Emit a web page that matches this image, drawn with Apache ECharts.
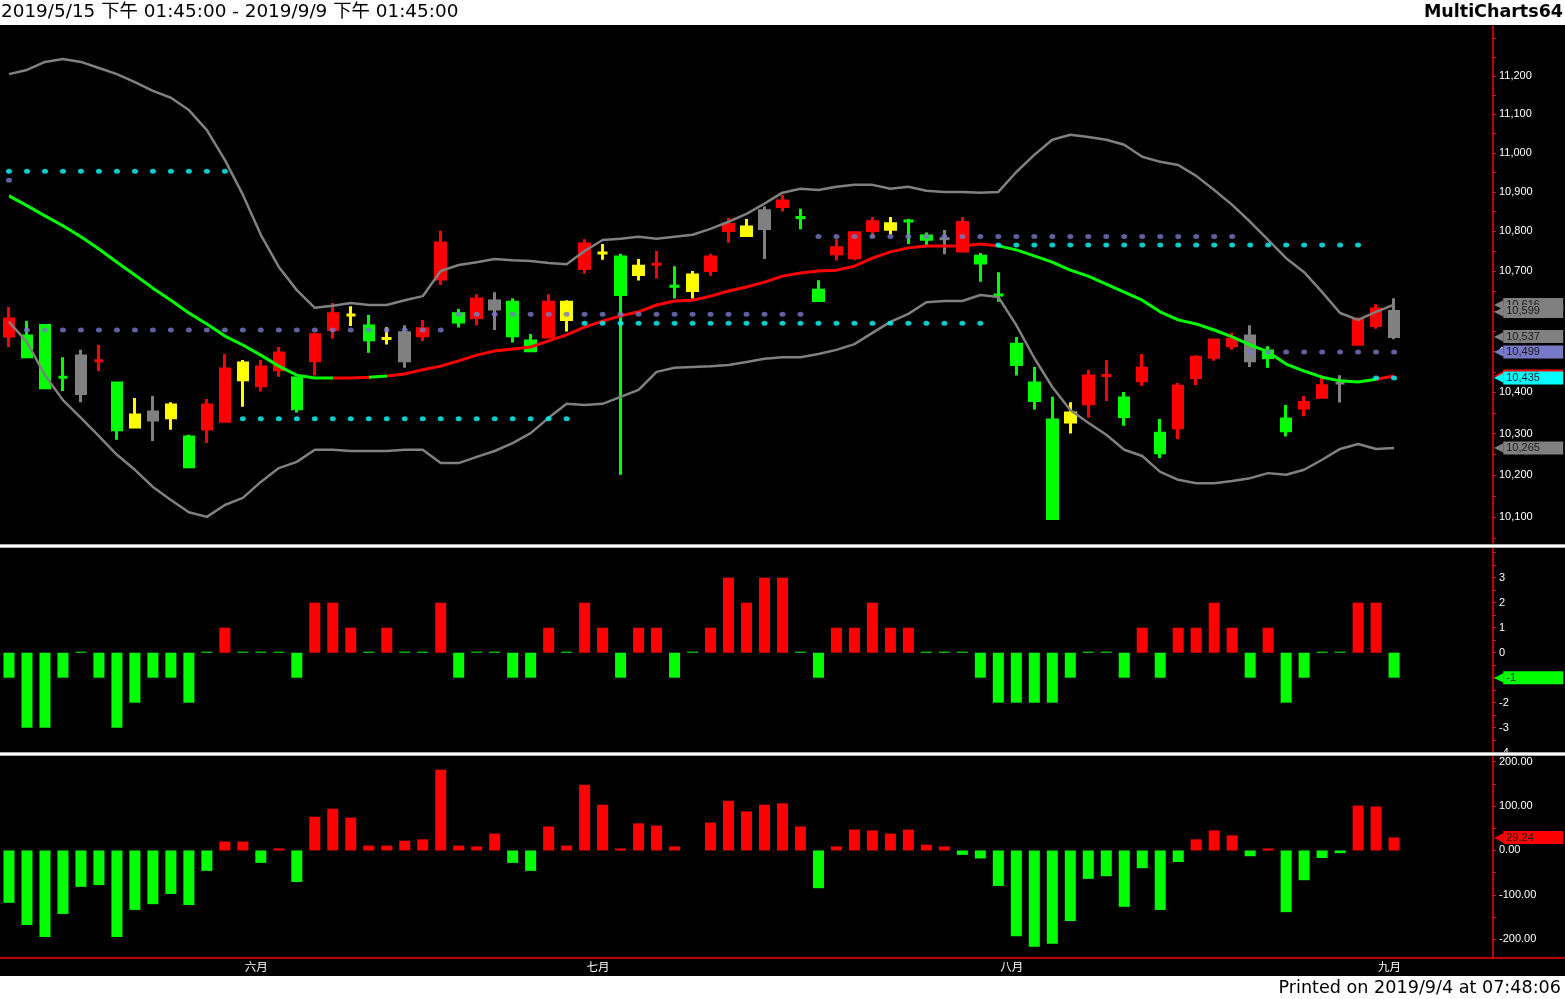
<!DOCTYPE html>
<html><head><meta charset="utf-8">
<script src="https://cdn.jsdelivr.net/npm/echarts@6.0.0/dist/echarts.min.js"></script>
<style>html,body{margin:0;padding:0;background:#000;overflow:hidden}#chart{width:1565px;height:999px}</style>
</head><body><div id="chart"></div>
<script>
// ---------- DATA ----------
const dates = ['5/15','5/16','5/17','5/20','5/21','5/22','5/23','5/24','5/27','5/28','5/29','5/30','5/31',
'6/3','6/4','6/5','6/6','6/10','6/11','6/12','6/13','6/14','6/17','6/18','6/19','6/20','6/21','6/24','6/25','6/26','6/27','6/28',
'7/1','7/2','7/3','7/4','7/5','7/8','7/9','7/10','7/11','7/12','7/15','7/16','7/17','7/18','7/19','7/22','7/23','7/24','7/25','7/26','7/29','7/30','7/31',
'8/1','8/2','8/5','8/6','8/7','8/8','8/12','8/13','8/14','8/15','8/16','8/19','8/20','8/21','8/22','8/23','8/26','8/27','8/28','8/29','8/30',
'9/2','9/3'];
const monthNames = ['一月','二月','三月','四月','五月','六月','七月','八月','九月','十月','十一月','十二月'];

const open = [10538,10538,10564,10437,10489,10477,10423,10316,10352,10338,
10292,10311,10330,10431,10416,10455,10435,10477,10554,10590,
10563,10532,10546,10539,10680,10593,10584,10625,10622,10526,
10536,10579,10706,10745,10735,10691,10717,10662,10651,10701,
10802,10789,10852,10863,10835,10652,10743,10733,10802,10805,
10826,10788,10781,10750,10737,10640,10518,10423,10333,10328,
10372,10441,10386,10428,10301,10314,10436,10486,10514,10538,
10501,10335,10362,10388,10423,10518,10564,10599];
const close = [10580,10487,10411,10437,10397,10477,10309,10345,10333,10369,
10220,10369,10457,10472,10462,10496,10360,10541,10593,10590,
10529,10532,10477,10556,10770,10573,10630,10605,10539,10502,
10622,10622,10768,10745,10641,10712,10717,10662,10690,10735,
10817,10811,10807,10877,10835,10626,10758,10796,10824,10819,
10826,10780,10781,10822,10720,10640,10468,10380,10097,10350,
10440,10441,10341,10459,10254,10415,10486,10528,10530,10477,
10485,10307,10375,10416,10423,10578,10605,10537];
const low = [10511,10484,10408,10403,10376,10452,10285,10314,10282,10309,
10217,10277,10330,10365,10402,10438,10351,10441,10532,10563,
10497,10517,10460,10526,10665,10559,10564,10553,10522,10499,
10533,10549,10693,10728,10201,10676,10681,10631,10631,10688,
10771,10789,10730,10850,10805,10623,10726,10727,10786,10792,
10768,10765,10742,10750,10673,10623,10441,10358,10095,10300,
10338,10379,10319,10416,10241,10287,10418,10477,10504,10462,
10460,10293,10342,10388,10375,10516,10556,10530];
const high = [10610,10575,10568,10486,10504,10516,10425,10386,10391,10376,
10297,10384,10494,10479,10479,10511,10435,10546,10620,10612,
10590,10560,10565,10578,10801,10605,10642,10647,10632,10543,
10642,10627,10780,10768,10743,10730,10750,10712,10700,10743,
10834,10831,10863,10892,10857,10677,10780,10799,10836,10836,
10831,10797,10803,10836,10745,10697,10536,10462,10389,10376,
10455,10479,10401,10494,10335,10423,10491,10531,10546,10565,
10513,10369,10391,10442,10442,10584,10617,10632];
// r = red, g = green, y = yellow, k = gray
const candleColor = ['r','g','g','g','k','r','g','y','k','y',
'g','r','r','y','r','r','g','r','r','y',
'g','y','k','r','r','g','r','k','g','g',
'r','y','r','y','g','y','r','g','y','r',
'r','y','k','r','g','g','r','r','r','y',
'g','g','k','r','g','g','g','g','g','y',
'r','r','g','r','g','r','r','r','r','k',
'g','g','r','r','k','r','r','k'];

const bbUpper = [11205,11216,11237,11245,11237,11221,11205,11184,11161,11143,
11111,11059,10982,10893,10791,10710,10652,10608,10613,10620,
10615,10615,10627,10637,10700,10715,10722,10730,10727,10725,
10720,10717,10750,10778,10781,10786,10781,10786,10791,10806,
10824,10844,10870,10898,10908,10905,10913,10918,10918,10908,
10913,10903,10900,10900,10898,10900,10951,10995,11034,11047,
11041,11034,11021,10990,10977,10969,10941,10905,10867,10824,
10778,10732,10697,10647,10595,10578,10598,10616];
const bbLower = [10573,10523,10442,10381,10338,10294,10249,10213,10172,10141,
10112,10101,10129,10146,10184,10217,10232,10261,10261,10258,
10258,10258,10261,10261,10229,10229,10244,10258,10277,10301,
10338,10372,10369,10372,10389,10406,10450,10460,10462,10464,
10467,10474,10482,10486,10486,10494,10504,10518,10546,10573,
10593,10622,10625,10625,10640,10635,10565,10484,10413,10357,
10326,10297,10261,10246,10208,10189,10181,10181,10186,10193,
10205,10201,10213,10237,10263,10275,10263,10265];
const bbMid = [10890,10865,10839,10814,10786,10755,10722,10690,10657,10627,
10595,10568,10538,10516,10491,10464,10442,10435,10435,10435,
10437,10440,10445,10455,10464,10477,10491,10501,10506,10511,
10526,10541,10560,10575,10588,10598,10615,10625,10627,10637,
10650,10660,10672,10687,10695,10700,10702,10712,10732,10748,
10758,10763,10763,10763,10768,10763,10753,10738,10722,10702,
10687,10667,10647,10627,10598,10578,10568,10553,10536,10516,
10499,10469,10452,10437,10428,10425,10432,10440];
// colour of the middle line: g = falling, r = rising
const midTrend = ['g','g','g','g','g','g','g','g','g','g',
'g','g','g','g','g','g','g','g','r','r',
'g','r','r','r','r','r','r','r','r','r',
'r','r','r','r','r','r','r','r','r','r',
'r','r','r','r','r','r','r','r','r','r',
'r','r','r','r','r','g','g','g','g','g',
'g','g','g','g','g','g','g','g','g','g',
'g','g','g','g','g','g','r','r'];

const blueLevel = [10930,10553,10553,10553,10553,10553,10553,10553,10553,10553,
10553,10553,10553,10553,10553,10553,10553,10553,10553,10553,
10553,10553,10553,10553,10553,10592,10592,10592,10592,10592,
10592,10592,10592,10592,10592,10592,10592,10592,10592,10592,
10592,10592,10592,10592,10592,10787,10787,10787,10787,10787,
10787,10787,10787,10787,10787,10787,10787,10787,10787,10787,
10787,10787,10787,10787,10787,10787,10787,10787,10787,10499,
10499,10499,10499,10499,10499,10499,10499,10499];
const cyanLevel = [10953,10953,10953,10953,10953,10953,10953,10953,10953,10953,
10953,10953,10953,10336,10336,10336,10336,10336,10336,10336,
10336,10336,10336,10336,10336,10336,10336,10336,10336,10336,
10336,10336,10570,10570,10570,10570,10570,10570,10570,10570,
10570,10570,10570,10570,10570,10570,10570,10570,10570,10570,
10570,10570,10570,10570,10570,10765,10765,10765,10765,10765,
10765,10765,10765,10765,10765,10765,10765,10765,10765,10765,
10765,10765,10765,10765,10765,10765,10435,10435];

const osc = [-1,-3,-3,-1,0,-1,-3,-2,-1,-1,
-2,0,1,0,0,0,-1,2,2,1,
0,1,0,0,2,-1,0,0,-1,-1,
1,0,2,1,-1,1,1,-1,0,1,
3,2,3,3,0,-1,1,1,2,1,
1,0,0,0,-1,-2,-2,-2,-2,-1,
0,0,-1,1,-1,1,1,2,1,-1,
1,-2,-1,0,0,2,2,-1];
const hist = [-118,-168,-195,-143,-82,-78,-195,-134,-121,-98,
-123,-46,20,20,-28,4.5,-71,76,94,74,
11,11,22,25,182,11,9,38,-28,-46,
54,11,148,103,4.5,61,56,9,0,63,
112,88,103,106,54,-85,9,47,45,38,
47,13,9,-10,-18,-80,-193,-217,-210,-159,
-64,-58,-127,-40,-134,-26,25,45,34,-13,
4.5,-139,-67,-17,-6,101,99,29.24];

const priceTicks = [10100,10200,10300,10400,10500,10600,10700,10800,10900,11000,11100,11200];
const oscTicks = [-4,-3,-2,-1,0,1,2,3];
const histTicks = [-200,-100,0,100,200];

// ---------- BUILD ----------
const RED = '#ff0000', GREEN = '#00ff00', YELLOW = '#ffff00', GRAY = '#808080', BLUE = '#7878c8', CYAN = '#00ffff';
const COL = {r: RED, g: GREEN, y: YELLOW, k: GRAY};
const N = dates.length;
const SLOTS = 83;
const cats = dates.concat(Array.from({length: SLOTS - N}, (_, k) => 'pad' + k));
const monthOf = s => parseInt(String(s).split('/')[0], 10);
const isMonthStart = idx => idx > 0 && idx < N && monthOf(dates[idx]) !== monthOf(dates[idx - 1]);
const LN = Math.log;
const P_MIN = 10039.3, P_MAX = 11332;
const fmtP = v => Math.round(v).toLocaleString('en-US');
const L = N - 1;

const priceMinor = [];
for (let v = 10050; v <= 11300; v += 50) priceMinor.push(v);
const oscMinor = [];
for (let v = -4; v <= 4; v += 0.5) oscMinor.push(v);
const histMinor = [];
for (let v = -200; v <= 200; v += 50) histMinor.push(v);

const priceTags = [
  {v: high[L], c: GRAY}, {v: bbUpper[L], c: GRAY}, {v: open[L], c: GRAY}, {v: close[L], c: GRAY},
  {v: blueLevel[L], c: BLUE}, {v: bbMid[L], c: COL[midTrend[L]]}, {v: cyanLevel[L], c: CYAN}, {v: bbLower[L], c: GRAY}
];
const oscTags = [{v: osc[L], c: osc[L] > 0 ? RED : GREEN}];
const histTags = [{v: hist[L], c: hist[L] > 0 ? RED : GREEN}];

function tagAxis(gridIndex, min, max, tags, toAxis, fmt) {
  const rich = {};
  tags.forEach((t, k) => {
    rich['a' + k] = {color: t.c, fontSize: 12, fontFamily: 'DejaVu Sans', height: 13, lineHeight: 13};
    rich['b' + k] = {backgroundColor: t.c, color: '#1a1a1a', fontSize: 11, fontFamily: 'Liberation Sans', height: 13, lineHeight: 13, width: 57, padding: [0, 0, 0, 3]};
  });
  return {
    type: 'value', gridIndex, position: 'right', min, max,
    axisLine: {show: false}, axisTick: {show: false}, splitLine: {show: false},
    axisLabel: {
      customValues: tags.map(t => toAxis(t.v)), margin: 1, rich,
      formatter: (v) => {
        const k = tags.findIndex(t => Math.abs(toAxis(t.v) - v) < 1e-7);
        if (k < 0) return '';
        return '{a' + k + '|◀}{b' + k + '|' + fmt(tags[k].v) + '}';
      }
    }
  };
}

const axisLineRed = {show: true, lineStyle: {color: RED, width: 1.5}};
const labelStyle = {color: '#ffffff', fontSize: 11, fontFamily: 'Liberation Sans', margin: 6};

const grids = [
  {left: 0, top: 26, width: 1493, height: 517, outerBoundsMode: 'none', containLabel: false},
  {left: 0, top: 547.7, width: 1493, height: 205, outerBoundsMode: 'none', containLabel: false},
  {left: 0, top: 755.9, width: 1493, height: 202.2, outerBoundsMode: 'none', containLabel: false}
];

const xAxes = [0, 1, 2].map(g => ({
  type: 'category', gridIndex: g, data: cats, boundaryGap: true, show: g === 2,
  axisLine: {onZero: false, show: true, lineStyle: {color: RED, width: 1.5}},
  axisTick: {alignWithLabel: true, interval: (i) => isMonthStart(i), length: 4, lineStyle: {color: RED}},
  axisLabel: {
    interval: (i) => isMonthStart(i),
    formatter: (v) => { const m = monthOf(v); return isNaN(m) ? '' : monthNames[m - 1]; },
    color: '#ffffff', fontSize: 11.5, fontFamily: 'Noto Sans CJK SC', align: 'left', margin: 3, padding: [0, 0, 0, 2]
  },
  splitLine: {show: false}
}));

const yAxes = [
  // 0: price data axis (log scale)
  {type: 'log', logBase: 10, gridIndex: 0, position: 'right', min: P_MIN, max: P_MAX, show: false, splitLine: {show: false}},
  // 1: price labels (natural-log space, same mapping as axis 0)
  {type: 'value', gridIndex: 0, position: 'right', min: LN(P_MIN), max: LN(P_MAX),
   axisLine: axisLineRed,
   axisTick: {show: true, customValues: priceMinor.map(LN), length: 3, lineStyle: {color: RED}},
   axisLabel: Object.assign({customValues: priceTicks.map(LN), formatter: v => fmtP(Math.exp(v))}, labelStyle),
   splitLine: {show: false}},
  // 2: price tags
  tagAxis(0, LN(P_MIN), LN(P_MAX), priceTags, LN, fmtP),
  // 3: oscillator
  {type: 'value', gridIndex: 1, position: 'right', min: -4, max: 4.2,
   axisLine: axisLineRed,
   axisTick: {show: true, customValues: oscMinor, length: 3, lineStyle: {color: RED}},
   axisLabel: Object.assign({customValues: oscTicks, formatter: v => String(v)}, labelStyle),
   splitLine: {show: false}},
  // 4: osc tag
  tagAxis(1, -4, 4.2, oscTags, v => v, v => String(v)),
  // 5: histogram
  {type: 'value', gridIndex: 2, position: 'right', min: -242.5, max: 213,
   axisLine: axisLineRed,
   axisTick: {show: true, customValues: histMinor, length: 3, lineStyle: {color: RED}},
   axisLabel: Object.assign({customValues: histTicks, formatter: v => v.toFixed(2)}, labelStyle),
   splitLine: {show: false}},
  // 6: hist tag
  tagAxis(2, -242.5, 213, histTags, v => v, v => v.toFixed(2))
];

const candleData = open.map((o, i) => {
  const c = COL[candleColor[i]];
  return {value: [o, close[i], low[i], high[i]],
    itemStyle: {color: c, color0: c, borderColor: c, borderColor0: c, borderColorDoji: c}};
});

const midPieces = midTrend.map((t, i) => ({gte: i - 0.5, lt: i + 0.5, color: COL[t]}));

const series = [
  {type: 'candlestick', name: 'price', xAxisIndex: 0, yAxisIndex: 0, data: candleData, barWidth: 10,
   itemStyle: {borderWidth: 3}, z: 2, silent: true},
  {type: 'line', name: 'upper', xAxisIndex: 0, yAxisIndex: 0, data: bbUpper, symbol: 'none',
   lineStyle: {color: GRAY, width: 2.5}, z: 3, silent: true},
  {type: 'line', name: 'lower', xAxisIndex: 0, yAxisIndex: 0, data: bbLower, symbol: 'none',
   lineStyle: {color: GRAY, width: 2.5}, z: 3, silent: true},
  {type: 'line', name: 'mid', xAxisIndex: 0, yAxisIndex: 0, data: bbMid, symbol: 'none',
   lineStyle: {width: 3}, z: 4, silent: true},
  {type: 'scatter', name: 'blue', xAxisIndex: 0, yAxisIndex: 0, data: blueLevel, symbol: 'circle',
   symbolSize: [6, 5], itemStyle: {color: BLUE}, z: 5, silent: true},
  {type: 'scatter', name: 'cyan', xAxisIndex: 0, yAxisIndex: 0, data: cyanLevel, symbol: 'circle',
   symbolSize: [6, 5], itemStyle: {color: CYAN}, z: 5, silent: true},
  {type: 'bar', name: 'osc', xAxisIndex: 1, yAxisIndex: 3, barWidth: 11, barMinHeight: 1, silent: true,
   data: osc.map(v => ({value: v, itemStyle: {color: v > 0 ? RED : GREEN}}))},
  {type: 'bar', name: 'hist', xAxisIndex: 2, yAxisIndex: 5, barWidth: 11, silent: true,
   data: hist.map(v => ({value: v, itemStyle: {color: v > 0 ? RED : GREEN}}))}
];

const txt = (x, y, text, font, align) => ({
  type: 'text', x, y, z: 101,
  style: {text, font, fill: '#000', align, verticalAlign: 'middle', textAlign: align, textVerticalAlign: 'middle'}
});

const graphic = [
  {type: 'rect', z: 100, shape: {x: 0, y: 0, width: 1565, height: 25}, style: {fill: '#ffffff'}},
  {type: 'rect', z: 100, shape: {x: 0, y: 976, width: 1565, height: 23}, style: {fill: '#ffffff'}},
  txt(1, 12, '2019/5/15 下午 01:45:00 - 2019/9/9 下午 01:45:00', '18.4px "DejaVu Sans", "Noto Sans CJK TC"', 'left'),
  txt(1563, 12, 'MultiCharts64', 'bold 17.5px "DejaVu Sans"', 'right'),
  txt(1561, 988, 'Printed on 2019/9/4 at 07:48:06', '17.6px "DejaVu Sans"', 'right'),
  {type: 'rect', z: 100, shape: {x: 0, y: 544, width: 1565, height: 4}, style: {fill: '#a8a8a8'}},
  {type: 'rect', z: 100, shape: {x: 0, y: 545, width: 1565, height: 2}, style: {fill: '#ffffff'}},
  {type: 'rect', z: 100, shape: {x: 0, y: 752, width: 1565, height: 4}, style: {fill: '#a8a8a8'}},
  {type: 'rect', z: 100, shape: {x: 0, y: 753, width: 1565, height: 2}, style: {fill: '#ffffff'}},
  {type: 'line', z: 100, shape: {x1: 1493, y1: 958.1, x2: 1565, y2: 958.1}, style: {stroke: RED, lineWidth: 1.5}}
];

const chart = echarts.init(document.getElementById('chart'), null, {renderer: 'canvas'});
chart.setOption({
  backgroundColor: '#000000',
  animation: false,
  grid: grids,
  xAxis: xAxes,
  yAxis: yAxes,
  visualMap: [{type: 'piecewise', show: false, seriesIndex: 3, dimension: 0, pieces: midPieces}],
  series,
  graphic
});
</script>
</body></html>
